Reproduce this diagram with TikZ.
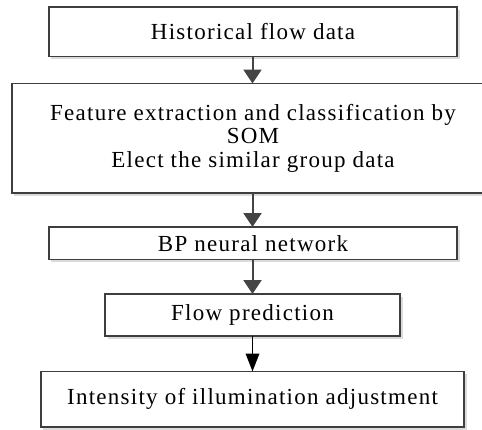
\documentclass[tikz,border=0pt]{standalone}
\usepackage{fontspec}
\setmainfont{Liberation Serif}[LetterSpace=5.5]
\usetikzlibrary{arrows.meta,shadows}
\definecolor{boxline}{RGB}{62,62,62}
\definecolor{arrline}{RGB}{68,68,68}
\tikzset{
  stepbox/.style={draw=boxline, line width=1.6bp, fill=white, rectangle, inner sep=0pt, outer sep=0pt,
    font=\fontsize{23bp}{23.3bp}\selectfont, align=center,
    copy shadow={shadow xshift=2.5bp, shadow yshift=-2.5bp, draw=none, fill=black!14}},
  flowarr/.style={draw=arrline, line width=2bp, -{Triangle[width=18bp,length=14bp]}, arrline},
  lastarr/.style={draw=black, line width=1.8bp, -{Triangle[width=13.5bp,length=18bp]}, black}
}
\begin{document}
\begin{tikzpicture}[x=1bp,y=-1bp]
\useasboundingbox (0,0) rectangle (482,429);
\clip (0,0) rectangle (482,429);
\node[stepbox, minimum width=408bp, minimum height=49.5bp] (b1) at (253,31.75) {Historical flow data};
\node[stepbox, minimum width=482bp, minimum height=109.5bp] (b2) at (253,138.25)
  {Feature extraction and classification by\\SOM\\Elect the similar group data};
\node[stepbox, minimum width=408bp, minimum height=32.5bp] (b3) at (253,243.25) {BP neural network};
\node[stepbox, minimum width=295bp, minimum height=42bp] (b4) at (252.5,315) {Flow prediction};
\node[stepbox, minimum width=423bp, minimum height=55.5bp] (b5) at (252.5,399.25) {Intensity of illumination adjustment};
\draw[flowarr] (b1.south -| 252.5,0) -- (b2.north -| 252.5,0);
\draw[flowarr] (b2.south -| 252.5,0) -- (b3.north -| 252.5,0);
\draw[flowarr] (b3.south -| 252.5,0) -- (b4.north -| 252.5,0);
\draw[lastarr] (b4.south -| 252.5,0) -- (b5.north -| 252.5,0);
\end{tikzpicture}
\end{document}
